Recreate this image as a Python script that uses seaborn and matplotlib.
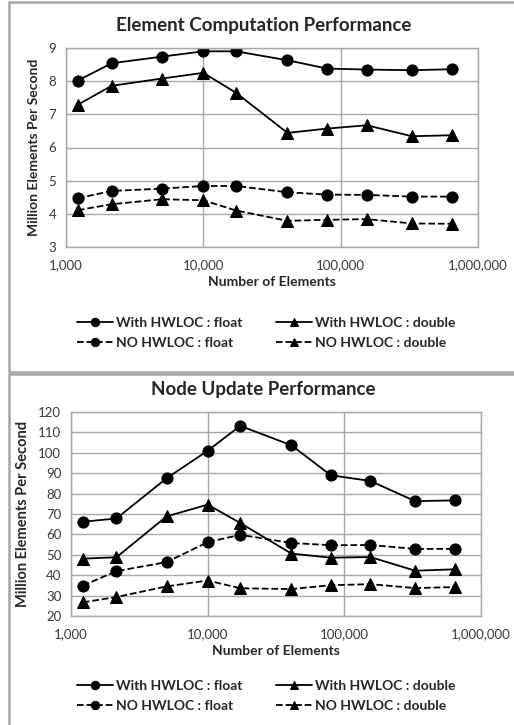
import numpy as np
import pandas as pd
import matplotlib
matplotlib.use('Agg')
import matplotlib.pyplot as plt
import matplotlib.ticker as mticker
from matplotlib.patches import Rectangle
import seaborn as sns

# number of elements
elements = [1220, 2150, 5000, 10000, 17300, 41000, 79500, 155000, 330000, 650000]

# Element Computation Performance (million elements / s)
elem_with_float = [8.02, 8.54, 8.74, 8.90, 8.90, 8.63, 8.38, 8.35, 8.33, 8.36]
elem_with_double = [7.29, 7.86, 8.08, 8.25, 7.65, 6.44, 6.57, 6.67, 6.34, 6.37]
elem_no_float = [4.47, 4.69, 4.76, 4.84, 4.84, 4.65, 4.58, 4.57, 4.52, 4.52]
elem_no_double = [4.11, 4.29, 4.44, 4.41, 4.10, 3.79, 3.82, 3.84, 3.71, 3.70]

# Node Update Performance (million elements / s)
node_with_float = [66.2, 67.8, 87.5, 101.0, 113.2, 103.7, 89.0, 86.2, 76.3, 76.7]
node_with_double = [48.1, 48.8, 68.8, 74.6, 65.6, 50.6, 48.6, 48.9, 42.2, 42.9]
node_no_float = [34.9, 42.0, 46.4, 56.2, 59.8, 55.8, 54.7, 54.8, 52.9, 52.9]
node_no_double = [26.7, 29.3, 34.5, 37.4, 33.6, 33.2, 35.1, 35.6, 33.7, 34.2]

labels = ['With HWLOC : float', 'With HWLOC : double',
          'NO HWLOC : float', 'NO HWLOC : double']

sns.set_style('white')
plt.rcParams['font.family'] = ['Lato', 'DejaVu Sans']

fig = plt.figure(figsize=(5.14, 7.25), dpi=100)

# panel frames
fig.patches.append(Rectangle((9 / 514, 1 - 372 / 725), 1.0, 370 / 725, transform=fig.transFigure,
                             fill=False, edgecolor='#a6a6a6', linewidth=1.8))
fig.patches.append(Rectangle((9 / 514, -0.05), 1.0, 1 - 374 / 725 + 0.05, transform=fig.transFigure,
                             fill=False, edgecolor='#a6a6a6', linewidth=1.8))

grid_c = '#a8a8a8'


def draw_panel(ax, series, title, ylim, ystep, title_y, leg_y, ylab_size):
    for name, vals in zip(labels, series):
        dashed = name.startswith('NO')
        mk = '^' if 'double' in name else 'o'
        sns.lineplot(x=elements, y=vals, ax=ax, color='black', linewidth=1.3,
                     linestyle='--' if dashed else '-', marker=mk,
                     markersize=8 if mk == 'o' else 8.5, markeredgecolor='black',
                     label=name, legend=False)
    ax.set_xscale('log')
    ax.set_xlim(1000, 1000000)
    ax.set_ylim(*ylim)
    ax.set_yticks(np.arange(ylim[0], ylim[1] + ystep / 2, ystep))
    ax.xaxis.set_major_formatter(mticker.FuncFormatter(lambda v, p: f'{int(round(v)):,}'))
    ax.xaxis.set_minor_locator(mticker.NullLocator())
    ax.grid(True, which='major', color=grid_c, linewidth=1)
    for s in ax.spines.values():
        s.set_color(grid_c)
        s.set_linewidth(1)
    ax.tick_params(axis='both', which='major', length=4, width=1, color=grid_c,
                   labelsize=9.5, labelcolor='#3a3a3a', pad=3)
    ax.tick_params(axis='x', pad=5)
    ax.set_xlabel('Number of Elements', fontsize=10, fontweight='bold', labelpad=3)
    ax.set_ylabel('Million Elements Per Second', fontsize=ylab_size, fontweight='bold', labelpad=6)
    fig.text(0.513, title_y, title, ha='center', va='center', fontsize=13.5, fontweight='bold')
    h, l = ax.get_legend_handles_labels()
    order = [0, 2, 1, 3]
    fig.legend([h[i] for i in order], [l[i] for i in order], loc='center',
               bbox_to_anchor=(0.518, leg_y), ncol=2, frameon=False,
               prop={'weight': 'bold', 'size': 10}, handlelength=2.6, markerscale=0.75,
               handletextpad=0.2, columnspacing=2.4, labelspacing=0.6)


ax1 = fig.add_axes([66 / 514, 1 - 247 / 725, 412 / 514, 199 / 725])
draw_panel(ax1, [elem_with_float, elem_with_double, elem_no_float, elem_no_double],
           'Element Computation Performance', (3, 9), 1, 1 - 25 / 725, 1 - 333 / 725, 10)

ax2 = fig.add_axes([71 / 514, 1 - 616 / 725, 410 / 514, 204 / 725])
draw_panel(ax2, [node_with_float, node_with_double, node_no_float, node_no_double],
           'Node Update Performance', (20, 120), 10, 1 - 389 / 725, 1 - 696 / 725, 10.5)

fig.savefig('out.png', dpi=100)
